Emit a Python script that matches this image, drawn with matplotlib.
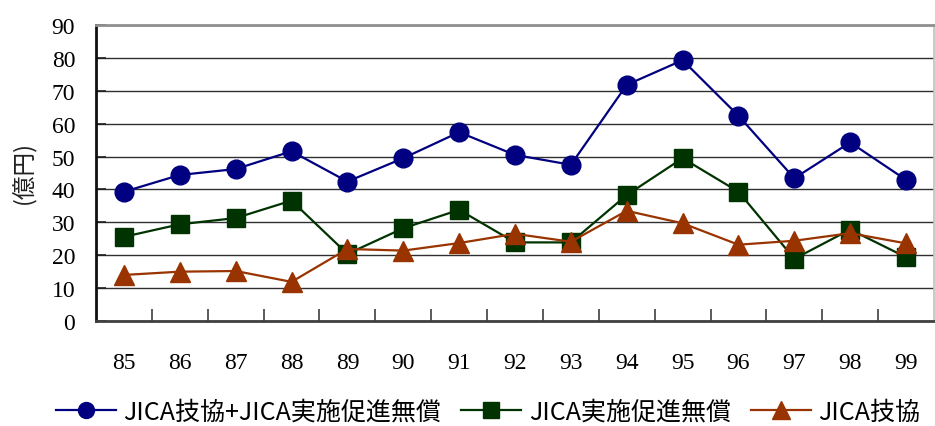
import matplotlib
matplotlib.use("Agg")
import matplotlib.pyplot as plt
from matplotlib.ticker import FixedLocator, NullFormatter

years = ["85", "86", "87", "88", "89", "90", "91", "92", "93", "94", "95", "96", "97", "98", "99"]
total = [39.3, 44.4, 46.2, 51.6, 42.4, 49.5, 57.4, 50.5, 47.5, 71.8, 79.3, 62.4, 43.4, 54.3, 42.9]
grant = [25.6, 29.4, 31.3, 36.6, 20.4, 28.2, 33.8, 23.9, 23.9, 38.3, 49.5, 39.3, 18.9, 27.8, 19.4]
tech = [14.0, 15.0, 15.2, 11.9, 21.9, 21.4, 23.7, 26.5, 24.1, 33.5, 29.7, 23.2, 24.4, 26.7, 23.6]

series_names = ["JICA技協+JICA実施促進無償", "JICA実施促進無償", "JICA技協"]
colors = ["#000080", "#003300", "#993300"]
markers = ["o", "s", "^"]
yticks = [0, 10, 20, 30, 40, 50, 60, 70, 80, 90]

serif = ["Liberation Serif", "DejaVu Serif"]
jp = ["Noto Sans CJK JP", "DejaVu Sans"]

fig = plt.figure(figsize=(9.35, 4.27), dpi=100)
ax = fig.add_axes([96 / 935, 1 - 322 / 427, 838 / 935, 296 / 427])

x = list(range(len(years)))
msizes = [13.5, 13, 14.5]
for vals, name, c, m, ms in zip([total, grant, tech], series_names, colors, markers, msizes):
    ax.plot(x, vals, color=c, lw=1.6, marker=m, markersize=ms,
            markerfacecolor=c, markeredgecolor=c, label=name, zorder=3)

ax.set_xlim(-0.5, len(years) - 0.5)
ax.set_ylim(0, 90)

# category boundaries carry the tick marks, labels sit at the centres
ax.xaxis.set_major_locator(FixedLocator([i + 0.5 for i in range(len(years) - 1)]))
ax.xaxis.set_major_formatter(NullFormatter())
ax.xaxis.set_minor_locator(FixedLocator(x))
ax.set_xticklabels(years, minor=True)
ax.tick_params(axis="x", which="major", direction="in", length=9, width=1.2, color="#404040")
ax.tick_params(axis="x", which="minor", length=0, pad=22)

ax.set_yticks(yticks)
ax.tick_params(axis="y", direction="in", length=7, width=1.2, pad=15, color="#202020")
for lab in ax.get_yticklabels() + ax.get_xticklabels(minor=True):
    lab.set_fontfamily(serif)
    lab.set_fontsize(17)

ax.yaxis.grid(True, color="#303030", lw=1.0)
ax.set_axisbelow(True)

ax.spines["left"].set_color("#101010")
ax.spines["left"].set_linewidth(2)
ax.spines["bottom"].set_color("#404040")
ax.spines["bottom"].set_linewidth(2)
ax.spines["top"].set_color("#909090")
ax.spines["top"].set_linewidth(2)
ax.spines["right"].set_color("#c0c0c0")
ax.spines["right"].set_linewidth(1.2)

fig.text(24 / 935, 1 - 173 / 427, "(億円)", rotation=90, ha="center", va="center",
         fontsize=17, family=jp, color="#202020")

leg = fig.legend(loc="center", bbox_to_anchor=(0.522, 1 - 413 / 427), ncol=3, frameon=False,
                 prop={"family": jp, "size": 18}, handlelength=2.4, handletextpad=0.3,
                 columnspacing=0.8, markerscale=0.85, borderaxespad=0, borderpad=0)

fig.savefig("out.png", dpi=100)
